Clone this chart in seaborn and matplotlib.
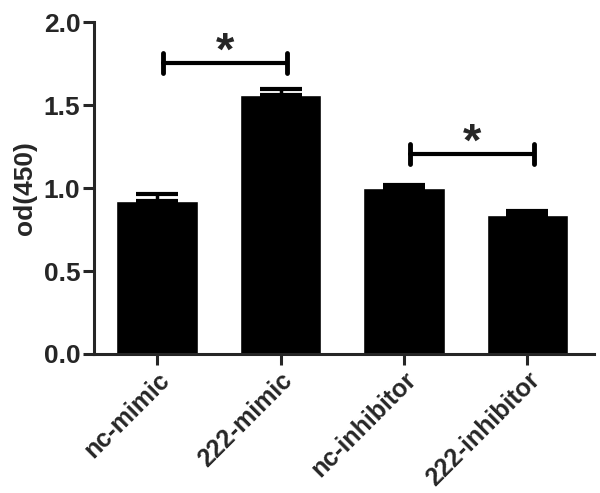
import numpy as np
import pandas as pd
import matplotlib
matplotlib.use("Agg")
import matplotlib.pyplot as plt
import seaborn as sns

# values
groups = ["nc-mimic", "222-mimic", "nc-inhibitor", "222-inhibitor"]
od_mean = [0.925, 1.56, 1.0, 0.835]
od_sem = [0.04, 0.035, 0.02, 0.025]

# significance brackets: (left group, right group, bracket height)
sig_pairs = [(0, 1, 1.755), (2, 3, 1.205)]


def main():
    sns.set_style("ticks")
    plt.rcParams["font.family"] = ["Liberation Sans", "DejaVu Sans"]
    plt.rcParams["font.weight"] = "bold"

    df = pd.DataFrame({"group": groups, "od": od_mean})

    fig = plt.figure(figsize=(6, 4.93), dpi=100)
    ax = fig.add_axes([0.157, 0.282, 0.833, 0.673])

    sns.barplot(data=df, x="group", y="od", color="black", width=0.66,
                errorbar=None, saturation=1, ax=ax)

    # upper-only error bars
    x = np.arange(len(groups))
    ax.errorbar(x, od_mean, yerr=[np.zeros(len(od_sem)), od_sem], fmt="none",
                ecolor="black", elinewidth=2.5, capsize=15, capthick=3)

    for a, b, h in sig_pairs:
        ax.plot([a + 0.05, b + 0.05], [h, h], color="black", lw=3)
        ax.plot([a + 0.05, a + 0.05], [h - 0.06, h + 0.06], color="black", lw=3.5)
        ax.plot([b + 0.05, b + 0.05], [h - 0.06, h + 0.06], color="black", lw=3.5)
        ax.text((a + b) / 2 + 0.05, h + 0.06, "*", ha="center", va="center",
                fontsize=34, fontweight="bold")

    ax.set_ylim(0, 2.0)
    ax.set_xlim(-0.51, 3.54)
    ax.set_yticks([0.0, 0.5, 1.0, 1.5, 2.0])
    ax.set_yticklabels(["0.0", "0.5", "1.0", "1.5", "2.0"], fontsize=19, fontweight="bold")
    ax.set_xticks(x)
    ax.set_xticklabels(groups, rotation=45, ha="right", rotation_mode="anchor",
                       fontsize=18, fontweight="bold")
    ax.set_xlabel("")
    ax.set_ylabel("od(450)", fontsize=19, fontweight="bold", labelpad=5)

    sns.despine(ax=ax)
    for s in ["left", "bottom"]:
        ax.spines[s].set_linewidth(2.2)
    ax.tick_params(width=2.2, length=8, direction="out", pad=2)

    fig.savefig("out.png", dpi=100)


if __name__ == "__main__":
    main()
